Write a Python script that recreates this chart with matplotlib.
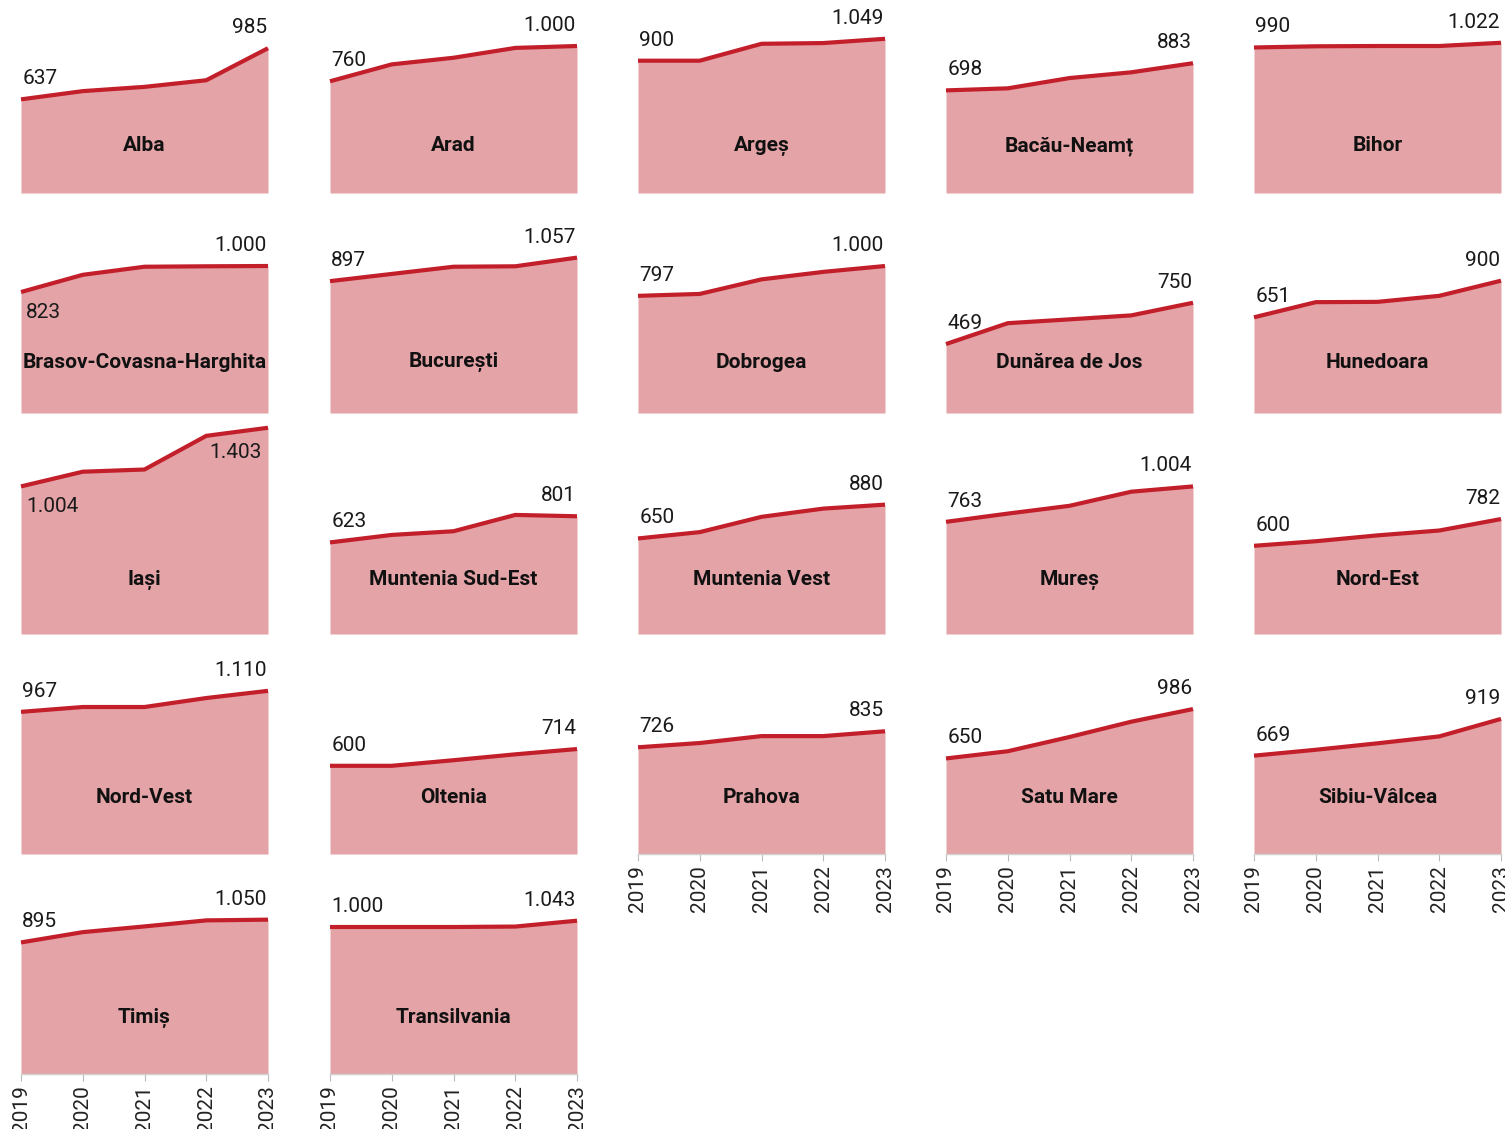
import matplotlib
matplotlib.use("Agg")
import matplotlib.pyplot as plt

years = [2019, 2020, 2021, 2022, 2023]
regions = ["Alba", "Arad", "Argeș", "Bacău-Neamț", "Bihor",
           "Brasov-Covasna-Harghita", "București", "Dobrogea", "Dunărea de Jos", "Hunedoara",
           "Iași", "Muntenia Sud-Est", "Muntenia Vest", "Mureș", "Nord-Est",
           "Nord-Vest", "Oltenia", "Prahova", "Satu Mare", "Sibiu-Vâlcea",
           "Timiș", "Transilvania"]
alba = [637, 693, 722, 767, 985]
arad = [760, 875, 920, 987, 1000]
arges = [900, 900, 1015, 1020, 1049]
bacau_neamt = [698, 712, 782, 821, 883]
bihor = [990, 998, 1000, 1000, 1022]
brasov = [823, 940, 995, 998, 1000]
bucuresti = [897, 946, 995, 998, 1057]
dobrogea = [797, 810, 909, 960, 1000]
dunarea_de_jos = [469, 611, 637, 664, 750]
hunedoara = [651, 754, 756, 797, 900]
iasi = [1004, 1104, 1119, 1348, 1403]
muntenia_sud_est = [623, 674, 699, 810, 801]
muntenia_vest = [650, 693, 797, 853, 880]
mures = [763, 819, 872, 968, 1004]
nord_est = [600, 631, 671, 704, 782]
nord_vest = [967, 1000, 1000, 1061, 1110]
oltenia = [600, 600, 638, 678, 714]
prahova = [726, 755, 802, 802, 835]
satu_mare = [650, 699, 796, 900, 986]
sibiu_valcea = [669, 709, 753, 800, 919]
timis = [895, 965, 1004, 1045, 1050]
transilvania = [1000, 1000, 1000, 1003, 1043]

series = [alba, arad, arges, bacau_neamt, bihor,
          brasov, bucuresti, dobrogea, dunarea_de_jos, hunedoara,
          iasi, muntenia_sud_est, muntenia_vest, mures, nord_est,
          nord_vest, oltenia, prahova, satu_mare, sibiu_valcea,
          timis, transilvania]

# label placement overrides (below the line)
below_first = {"Brasov-Covasna-Harghita", "Iași"}
below_last = {"Iași"}

FILL = "#e4a3a7"
LINE = "#c21f2b"
W, H = 1505, 1129
fig = plt.figure(figsize=(W / 100, H / 100), dpi=100)
plt.rcParams["font.family"] = ["Roboto", "DejaVu Sans"]

col_left = [21, 330, 638, 946, 1254]
panel_w = 247
row_bottom = [193, 413, 634, 854, 1074]
title_y = [320, 345, 370, 385, 385]
YMAX = 1420
k = 0.147  # px per unit
panel_h = YMAX * k

def fmt(v):
    return f"{v:,}".replace(",", ".")

ncols = 5
for i, (name, vals) in enumerate(zip(regions, series)):
    r, c = divmod(i, ncols)
    left = col_left[c] / W
    bottom = (H - row_bottom[r]) / H
    ax = fig.add_axes([left, bottom, panel_w / W, panel_h / H])
    ax.fill_between(years, 0, vals, color=FILL, lw=0)
    ax.plot(years, vals, color=LINE, lw=3, solid_capstyle="butt", solid_joinstyle="round", clip_on=False)
    ax.set_xlim(years[0], years[-1])
    ax.set_ylim(0, YMAX)
    for s in ax.spines.values():
        s.set_visible(False)
    ax.set_yticks([])
    last_in_col = (i + ncols) >= len(regions)
    if last_in_col:
        ax.spines["bottom"].set_visible(True)
        ax.spines["bottom"].set_color("#d0d0d0")
        ax.spines["bottom"].set_linewidth(1)
        ax.set_xticks(years)
        ax.set_xticklabels([str(y) for y in years], rotation=90, fontsize=15, color="#222222")
        ax.tick_params(axis="x", length=5, color="#bbbbbb", pad=3)
    else:
        ax.set_xticks([])
    off = 11 / k
    if name in below_first:
        ax.text(years[0] + 0.08, vals[0] - off, fmt(vals[0]), ha="left", va="top", fontsize=15, color="#1a1a1a")
    else:
        ax.text(years[0] + 0.02, vals[0] + off, fmt(vals[0]), ha="left", va="bottom", fontsize=15, color="#1a1a1a")
    if name in below_last:
        ax.text(years[-1] - 0.1, vals[-1] - 15 / k, fmt(vals[-1]), ha="right", va="top", fontsize=15, color="#1a1a1a")
    else:
        ax.text(years[-1] - 0.02, vals[-1] + off, fmt(vals[-1]), ha="right", va="bottom", fontsize=15, color="#1a1a1a")
    ax.text(2021, title_y[r], name, ha="center", va="center", fontsize=15, fontweight="bold", color="#111111")

fig.savefig("out.png", dpi=100)
